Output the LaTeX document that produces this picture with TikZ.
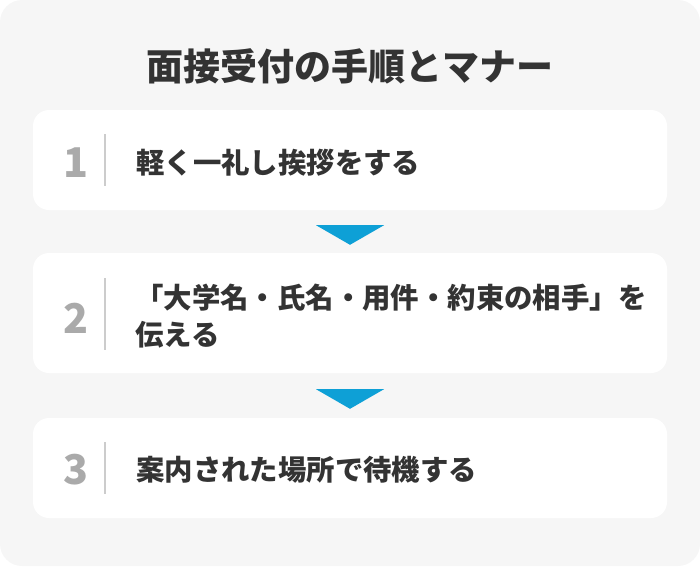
\documentclass[tikz,border=0pt]{standalone}
\usepackage{fontspec}
\setmainfont{Noto Sans CJK JP}
\usetikzlibrary{calc}
\definecolor{bgcol}{HTML}{F6F6F6}
\definecolor{txtcol}{HTML}{333333}
\definecolor{numcol}{HTML}{AAAAAA}
\definecolor{barcol}{HTML}{CCCCCC}
\definecolor{arrcol}{HTML}{0EA0D6}
\tikzset{
  stepbox/.style={fill=white, rounded corners=16pt, minimum width=634pt, inner sep=0pt},
  stepnum/.style={text=numcol, font=\fontsize{41}{44}\selectfont\bfseries},
  steptext/.style={anchor=west, text=txtcol, align=left, inner sep=0pt,
    font=\fontsize{28.4}{37}\selectfont\bfseries},
  downtri/.style={fill=arrcol}
}

\begin{document}
\begin{tikzpicture}[x=1pt, y=-1pt]
      \useasboundingbox (0, 0) rectangle (700, 566);
      \fill [bgcol, rounded corners=22pt] (0, 0) rectangle (700, 566);

      \node [text=txtcol, font=\fontsize{37}{40}\selectfont\bfseries] (title) at (350, 66) {面接受付の手順とマナー};

      % steps
      \node [stepbox, minimum height=100pt] (s1) at (350, 160) {};
      \node [stepbox, minimum height=120pt] (s2) at (350, 313) {};
      \node [stepbox, minimum height=100pt] (s3) at (350, 468) {};

      \node [stepnum] (n1) at (76, 163) {1};
      \node [stepnum] (n2) at (76, 318) {2};
      \node [stepnum] (n3) at (76, 470) {3};

      \draw [barcol, line width=1.2pt] (105, 134) -- (105, 186);
      \draw [barcol, line width=1.2pt] (105, 278) -- (105, 350);
      \draw [barcol, line width=1.2pt] (105, 442) -- (105, 494);

      \node [steptext] (t1) at (136, 163) {軽く一礼し挨拶をする};
      \node [steptext] (t2) at (135, 316) {「大学名・氏名・用件・約束の相手」を\\伝える};
      \node [steptext] (t3) at (136, 470) {案内された場所で待機する};

      % arrows between the steps
      \fill [downtri] ($(s1.south)+(-34, 15)$) -- ++(68, 0) -- ($(s2.north)+(0, -8)$) -- cycle;
      \fill [downtri] ($(s2.south)+(-34, 16)$) -- ++(68, 0) -- ($(s3.north)+(0, -9)$) -- cycle;

    \end{tikzpicture}
\end{document}
